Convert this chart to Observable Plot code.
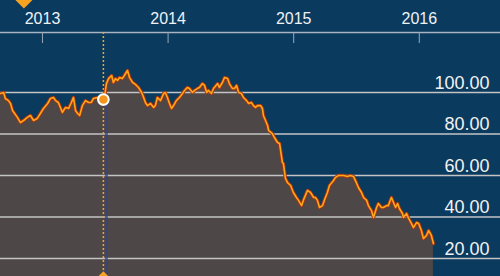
<!DOCTYPE html>
<html>
<head>
<meta charset="utf-8">
<script src="https://cdn.jsdelivr.net/npm/d3@7"></script>
<script src="https://cdn.jsdelivr.net/npm/@observablehq/plot@0.6"></script>
<style>
  html, body { margin: 0; padding: 0; background: #0b3a5f; }
  #chart { width: 500px; height: 276px; overflow: hidden; }
</style>
</head>
<body>
<div id="chart"></div>
<script>
// ---- Data ----
const dates = [
  "2012-09-01","2012-09-10","2012-09-15","2012-09-24","2012-09-30","2012-10-06","2012-10-12","2012-10-20","2012-10-29","2012-11-07",
  "2012-11-18","2012-11-27","2012-12-06","2012-12-17","2012-12-26","2013-01-04","2013-01-16","2013-01-24","2013-02-02","2013-02-08",
  "2013-02-16","2013-02-28","2013-03-09","2013-03-18","2013-03-26","2013-04-01","2013-04-07","2013-04-13","2013-04-19","2013-04-27",
  "2013-05-06","2013-05-15","2013-05-23","2013-05-29","2013-06-10","2013-06-19","2013-06-27","2013-06-30","2013-07-06","2013-07-12",
  "2013-07-21","2013-07-26","2013-08-01","2013-08-07","2013-08-13","2013-08-21","2013-08-27","2013-09-05","2013-09-11","2013-09-20",
  "2013-09-25","2013-10-01","2013-10-07","2013-10-16","2013-10-22","2013-10-27","2013-11-02","2013-11-11","2013-11-20","2013-11-25",
  "2013-12-01","2013-12-10","2013-12-19","2013-12-24","2013-12-30","2014-01-05","2014-01-11","2014-01-17","2014-01-25","2014-02-03",
  "2014-02-12","2014-02-18","2014-02-26","2014-03-04","2014-03-13","2014-03-19","2014-03-27","2014-04-02","2014-04-11","2014-04-17",
  "2014-04-23","2014-04-28","2014-05-07","2014-05-13","2014-05-25","2014-05-30","2014-06-08","2014-06-14","2014-06-23","2014-06-28",
  "2014-07-07","2014-07-13","2014-07-19","2014-07-25","2014-08-02","2014-08-08","2014-08-17","2014-08-23","2014-08-31","2014-09-06",
  "2014-09-12","2014-09-18","2014-09-27","2014-10-02","2014-10-05","2014-10-11","2014-10-17","2014-10-20","2014-10-31","2014-11-06",
  "2014-11-15","2014-11-21","2014-11-24","2014-11-29","2014-12-02","2014-12-08","2014-12-14","2014-12-23","2014-12-31","2015-01-09",
  "2015-01-15","2015-01-24","2015-01-29","2015-02-04","2015-02-10","2015-02-19","2015-02-28","2015-03-05","2015-03-11","2015-03-17",
  "2015-03-26","2015-03-31","2015-04-09","2015-04-15","2015-04-27","2015-05-02","2015-05-11","2015-05-26","2015-06-06","2015-06-15",
  "2015-06-24","2015-07-02","2015-07-08","2015-07-17","2015-07-23","2015-08-01","2015-08-06","2015-08-15","2015-08-21","2015-08-30",
  "2015-09-04","2015-09-13","2015-09-19","2015-09-28","2015-10-03","2015-10-12","2015-10-18","2015-10-24","2015-10-30","2015-11-04",
  "2015-11-13","2015-11-16","2015-11-25","2015-12-01","2015-12-09","2015-12-15","2015-12-24","2015-12-30","2016-01-07","2016-01-13",
  "2016-01-22","2016-01-28","2016-02-05","2016-02-11"
];
const values = [
  99.5,100,97.1,96.1,94.7,91.3,89.9,88.0,85.5,86.5,
  88.0,88.9,86.5,87.5,89.9,92.3,94.7,97.1,97.6,96.1,
  95.2,90.4,92.8,92.3,95.2,97.6,91.3,89.9,88.9,93.7,
  96.1,95.2,95.2,97.1,97.6,96.1,96.6,97.6,104.3,106.7,
  108.2,104.8,106.7,105.8,107.2,106.7,108.2,110.6,107.2,104.8,
  104.3,103.4,102.4,100,97.6,95.2,93.7,94.7,92.8,93.7,
  97.6,96.1,99.5,100,97.6,94.7,92.3,93.7,96.1,97.6,
  99.5,101,102.4,101.9,100,101,101.9,102.4,104.3,103.4,
  100,101,99.5,101.9,104.3,102.4,104.8,107.2,106.7,104.3,
  101.9,101.9,103.4,100,99.5,97.6,96.1,94.7,95.2,93.7,
  92.8,93.7,93.7,92.3,88.9,86.5,84.1,81.7,80.2,78.3,
  75.9,75.4,72.0,66.3,65.8,58.6,56.6,55.2,51.8,49.4,
  48.0,45.5,48.0,50.4,52.8,51.8,49.4,49.4,48.0,44.6,
  45.5,48.0,51.8,55.2,57.6,59.0,60,60,59.5,60,
  59.5,56.6,54.2,51.8,49.4,48.0,45.5,43.1,39.8,44.6,
  46.5,44.6,44.6,45.5,45.5,49.4,47.0,44.6,46.5,44.1,
  41.7,39.8,41.7,39.3,36.9,34.9,37.3,36.9,33.5,29.6,
  31.1,33.5,31.1,27.2
];
const yearTicks = ["2013-01-01","2014-01-01","2015-01-01","2016-01-01"];
const yearLabels = ["2013","2014","2015","2016"];
const yTicks = [100, 80, 60, 40, 20];
const yTickLabels = ["100.00","80.00","60.00","40.00","20.00"];
const markerDate = "2013-06-27";
const markerValue = 96.6;
const handleDates = ["2012-11-08", "2013-06-27"];

// ---- Scale extents (layout) ----
const xDomain = [new Date("2012-09-01"), new Date("2016-08-24")];
const yDomain = [11.33, 144.34];

const series = dates.map((d, i) => ({date: new Date(d), value: values[i]}));
const years = yearTicks.map((d, i) => ({date: new Date(d), label: yearLabels[i]}));
const yt = yTicks.map((v, i) => ({v, label: yTickLabels[i]}));
const marker = [{date: new Date(markerDate), value: markerValue}];
const handles = [
  {date: new Date(handleDates[0]), anchor: "top"},
  {date: new Date(handleDates[1]), anchor: "bottom"}
];

const chart = Plot.plot({
  width: 500,
  height: 276,
  margin: 0,
  x: {type: "utc", domain: xDomain, axis: null},
  y: {domain: yDomain, axis: null},
  style: {background: "#0b3a5f", fontFamily: "'Liberation Sans', Arial, sans-serif", overflow: "hidden"},
  marks: [
    Plot.areaY(series, {x: "date", y1: yDomain[0], y2: "value", fill: "#4d4748", curve: "linear"}),
    Plot.ruleY(yt, {y: "v", stroke: "#c4c4c4", strokeWidth: 1.5}),
    // top axis line and year ticks
    Plot.ruleY([yDomain[1]], {dy: 32, stroke: "#aab4c0", strokeWidth: 1.5}),
    Plot.tickX(years, {x: "date", stroke: "#9aa8b8", strokeWidth: 1, insetTop: 32, insetBottom: 233}),
    Plot.text(years, {x: "date", text: "label", frameAnchor: "top", lineAnchor: "bottom", dy: 23, fill: "#eef2f6", fontSize: 16}),
    // vertical marker line
    Plot.ruleX(marker, {x: "date", dx: 3, stroke: "#36418a", strokeWidth: 3, strokeOpacity: 0.75, insetTop: 100}),
    Plot.ruleX(marker, {x: "date", stroke: "#f7a520", strokeWidth: 1.5, strokeDasharray: "2,2", insetTop: 32}),
    // series line
    Plot.line(series, {x: "date", y: "value", stroke: "#a3340f", strokeWidth: 3.4, strokeLinejoin: "round"}),
    Plot.line(series, {x: "date", y: "value", stroke: "#ffa51c", strokeWidth: 1.6, strokeLinejoin: "round"}),
    // y labels
    Plot.text(yt, {y: "v", text: "label", frameAnchor: "right", textAnchor: "end", lineAnchor: "bottom", dx: -11, dy: -4, fill: "#f2f2f2", fontSize: 18}),
    // marker dot
    Plot.dot(marker, {x: "date", y: "value", r: 6.3, fill: "#ffffff"}),
    Plot.dot(marker, {x: "date", y: "value", r: 4.3, fill: "#f5961c"}),
    // handles
    Plot.dot(handles.filter(d => d.anchor === "top"), {x: "date", frameAnchor: "top", dy: -0.5, symbol: "diamond2", r: 7.7, fill: "#f7a21e"}),
    Plot.dot(handles.filter(d => d.anchor === "bottom"), {x: "date", frameAnchor: "bottom", dy: 2.5, symbol: "diamond2", r: 7, fill: "#f7a21e"})
  ]
});
document.getElementById("chart").appendChild(chart);
</script>
</body>
</html>
